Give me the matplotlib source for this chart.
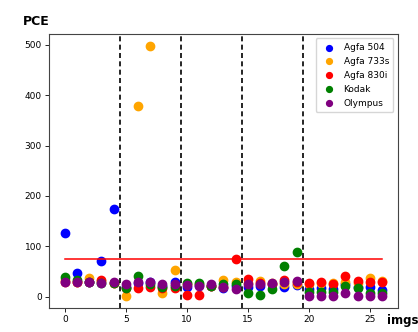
import matplotlib
matplotlib.use("Agg")
import matplotlib.pyplot as plt
import numpy as np

imgs = list(range(27))

agfa_504 = [127, 46, 30, 70, 175, 20, 28, 30, 22, 30, 20, 24, 22, 18, 22,
            20, 22, 25, 20, 24, 16, 18, 16, 26, 20, 20, 14]
agfa_733s = [33, 30, 37, 32, 28, 2, 378, 497, 8, 52, 25, 25, 22, 34, 30,
             28, 32, 27, 25, 25, 25, 28, 28, 30, 28, 37, 32]
agfa_830i = [30, 30, 30, 34, 28, 17, 18, 20, 18, 17, 3, 3, 22, 20, 74,
             36, 28, 25, 34, 30, 28, 30, 26, 40, 32, 30, 30]
kodak = [38, 33, 30, 28, 28, 18, 40, 25, 20, 22, 28, 28, 21, 25, 26,
         7, 3, 15, 60, 88, 10, 10, 10, 22, 17, 8, 8]
olympus = [29, 29, 30, 27, 30, 25, 30, 30, 25, 25, 24, 22, 26, 20, 16,
           26, 26, 28, 30, 32, 2, 2, 2, 8, 2, 2, 2]

series = [
    ("Agfa 504", agfa_504, "blue"),
    ("Agfa 733s", agfa_733s, "orange"),
    ("Agfa 830i", agfa_830i, "red"),
    ("Kodak", kodak, "green"),
    ("Olympus", olympus, "purple"),
]

threshold = 75
boundaries = [4.5, 9.5, 14.5, 19.5]

fig = plt.figure(figsize=(4.18, 3.32), dpi=100)
ax = fig.add_axes([0.117, 0.072, 0.835, 0.826])

for name, vals, col in series:
    ax.scatter(imgs, vals, s=36, color=col, label=name)

ax.plot([imgs[0], imgs[-1]], [threshold, threshold], color="red", lw=1.1)
for b in boundaries:
    ax.axvline(b, color="black", ls="--", lw=1.2, dashes=(3, 2))

ax.set_xticks([0, 5, 10, 15, 20, 25])
ax.set_yticks([0, 100, 200, 300, 400, 500])
ax.tick_params(labelsize=6.5, length=3, width=0.6, pad=2)
for sp in ax.spines.values():
    sp.set_linewidth(0.8)
    sp.set_color("#444444")

ax.legend(loc="upper right", fontsize=6.5, markerscale=0.7,
          handletextpad=0.6, borderpad=0.5, labelspacing=0.55)

fig.text(0.055, 0.935, "PCE", fontsize=9, fontweight="bold", ha="left", va="center")
fig.text(0.925, 0.035, "imgs", fontsize=8.5, fontweight="bold", ha="left", va="center")

fig.savefig("out.png", dpi=100)
